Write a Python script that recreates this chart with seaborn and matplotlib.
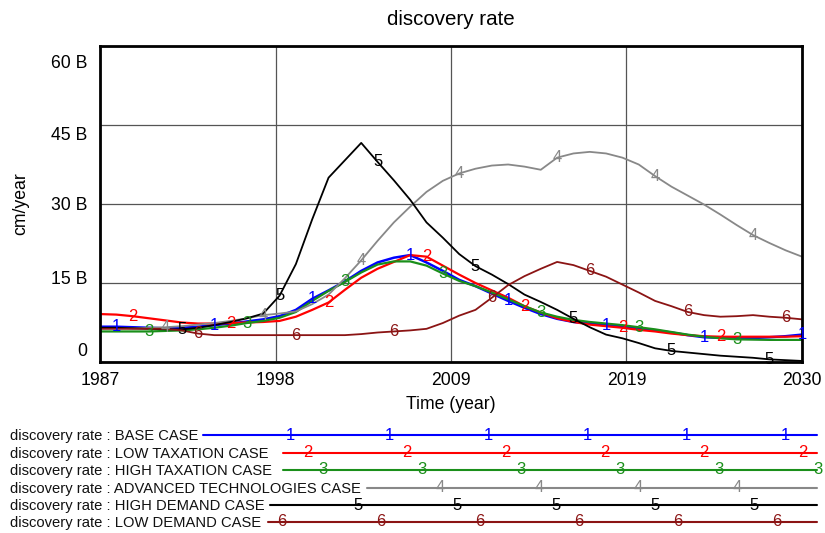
import matplotlib
matplotlib.use("Agg")
import numpy as np
import pandas as pd
import seaborn as sns
import matplotlib.pyplot as plt
from matplotlib.lines import Line2D
from matplotlib.transforms import ScaledTranslation

# ---------------- data (values in billions of cm/year) ----------------
years = list(range(1987, 2031))

base_case = [6.7, 6.7, 6.6, 6.5, 6.4, 6.5, 6.7, 7.0, 7.3, 7.7,
             8.1, 8.7, 9.9, 12.0, 13.6, 15.3, 17.3, 18.9, 19.8, 20.3,
             18.9, 17.3, 15.6, 14.4, 13.0, 11.6, 10.3, 9.1, 8.2, 7.6,
             7.3, 7.0, 6.7, 6.4, 6.0, 5.6, 5.1, 4.7, 4.6, 4.5,
             4.55, 4.7, 4.9, 5.2]
low_taxation = [9.1, 9.0, 8.7, 8.3, 7.9, 7.5, 7.3, 7.3, 7.4, 7.5,
                7.6, 7.8, 8.6, 9.9, 11.3, 13.7, 16.0, 17.7, 19.0, 20.3,
                20.0, 18.3, 16.6, 15.0, 13.6, 12.2, 10.6, 9.4, 8.3, 7.6,
                7.1, 6.8, 6.5, 6.1, 5.8, 5.4, 5.1, 4.9, 4.8, 4.8,
                4.8, 4.8, 4.8, 4.9]
high_taxation = [5.8, 5.8, 5.8, 5.8, 5.9, 6.0, 6.2, 6.5, 6.9, 7.4,
                 7.8, 8.4, 9.5, 11.6, 13.5, 15.2, 17.0, 18.5, 19.1, 19.1,
                 18.3, 16.8, 15.4, 14.4, 13.2, 11.9, 10.6, 9.4, 8.6, 8.0,
                 7.6, 7.3, 7.0, 6.6, 6.2, 5.7, 5.2, 4.8, 4.5, 4.3,
                 4.25, 4.2, 4.2, 4.2]
advanced_tech = [6.4, 6.4, 6.4, 6.5, 6.6, 6.8, 7.1, 7.4, 7.8, 8.3,
                 8.9, 9.2, 9.6, 11.0, 12.8, 15.9, 19.3, 23.0, 26.5, 29.5,
                 32.3, 34.4, 35.8, 36.7, 37.3, 37.5, 37.1, 36.5, 38.8, 39.6,
                 39.9, 39.6, 38.8, 37.5, 35.3, 33.3, 31.6, 29.9, 28.0, 26.0,
                 24.1, 22.6, 21.2, 20.0]
high_demand = [6.5, 6.5, 6.4, 6.3, 6.2, 6.2, 6.5, 7.0, 7.6, 8.3,
               9.2, 12.6, 18.6, 27.1, 35.0, 38.3, 41.6, 38.0, 34.5, 30.8,
               26.5, 23.6, 20.5, 18.2, 16.6, 14.8, 12.8, 11.4, 9.9, 8.2,
               6.6, 5.2, 4.5, 3.6, 2.6, 2.1, 1.8, 1.5, 1.2, 1.0,
               0.8, 0.5, 0.35, 0.2]
low_demand = [6.3, 6.3, 6.3, 6.3, 6.3, 6.0, 5.4, 5.1, 5.1, 5.1,
              5.1, 5.1, 5.1, 5.1, 5.1, 5.1, 5.3, 5.6, 5.8, 6.0,
              6.3, 7.4, 8.8, 9.9, 12.2, 14.6, 16.3, 17.7, 19.0, 18.4,
              17.3, 16.2, 14.7, 13.2, 11.6, 10.6, 9.5, 8.9, 8.6, 8.7,
              8.9, 8.6, 8.4, 8.1]

case_names = ["BASE CASE", "LOW TAXATION CASE", "HIGH TAXATION CASE",
              "ADVANCED TECHNOLOGIES CASE", "HIGH DEMAND CASE", "LOW DEMAND CASE"]
series = [base_case, low_taxation, high_taxation, advanced_tech, high_demand, low_demand]

y_ticks = [0, 15, 30, 45, 60]
y_tick_labels = ["0", "15 B", "30 B", "45 B", "60 B"]
x_tick_labels = ["1987", "1998", "2009", "2019", "2030"]

# ---------------- style ----------------
colors = ["#0000ff", "#ff0000", "#1a8f1a", "#888888", "#000000", "#8b1414"]
widths = [1.8, 1.6, 1.6, 1.3, 1.3, 1.3]

sns.set_theme(style="white")
plt.rcParams["font.family"] = ["Liberation Sans", "DejaVu Sans"]

W, H = 825, 533
fig = plt.figure(figsize=(W / 100, H / 100), dpi=100)
ax = fig.add_axes([100 / W, 1 - 362 / H, (802 - 100) / W, (362 - 46) / H])

for name, vals, c, lw in zip(case_names, series, colors, widths):
    d = pd.DataFrame({"year": years, "value": vals})
    sns.lineplot(data=d, x="year", y="value", color=c, lw=lw, ax=ax, legend=False)

# number labels on the curves
for i, (vals, c) in enumerate(zip(series, colors)):
    t = 1988 + i
    while t <= 2030:
        v = vals[years.index(t)]
        ax.text(t, v, str(i + 1), color=c, fontsize=12, ha="center", va="center",
                clip_on=False, zorder=5)
        t += 6

ax.set_xlim(1987, 2030)
ax.set_ylim(0, 60)
x_pos = [1987 + 43 * k / 4 for k in range(5)]
ax.set_xticks(x_pos, x_tick_labels)
ax.set_yticks(y_ticks, y_tick_labels)
ax.tick_params(axis="both", length=0, labelsize=12.7, colors="black")
ax.tick_params(axis="y", pad=9)
ax.tick_params(axis="x", pad=7)
ax.grid(True, color="#555555", lw=0.9)
ax.set_axisbelow(True)
for s in ax.spines.values():
    s.set_visible(True)
    s.set_color("black")
    s.set_linewidth(2)

# vensim-style staggered y tick labels (pixel offsets, +up)
offs = [12, 6, 0, -8, -16]
for lab, o in zip(ax.get_yticklabels(), offs):
    lab.set_transform(lab.get_transform() + ScaledTranslation(0, o / 100, fig.dpi_scale_trans))

ax.set_xlabel("Time (year)", fontsize=12.7, labelpad=5, color="black")
ax.set_ylabel("cm/year", fontsize=12.7, labelpad=16, color="black")
ax.set_title("discovery rate", fontsize=14.8, pad=15, color="black")

# ---------------- legend block ----------------
row_y = [435, 452.5, 470, 487.5, 505, 522]
line_start = [203, 283, 283, 367, 270, 268]
first_num = [290, 308, 323, 440, 358, 282]
line_end = 817
for i, name in enumerate(case_names):
    yy = 1 - row_y[i] / H
    fig.text(10 / W, 1 - (row_y[i] + 5.2) / H, "discovery rate : " + name,
             fontsize=10.6, color="#111111", ha="left", va="baseline")
    fig.add_artist(Line2D([line_start[i] / W, line_end / W], [yy, yy],
                          color=colors[i], lw=1.5))
    xp = first_num[i]
    while xp <= 822:
        fig.text(xp / W, yy, str(i + 1), color=colors[i], fontsize=12,
                 ha="center", va="center")
        xp += 99

fig.savefig("out.png", dpi=100)
